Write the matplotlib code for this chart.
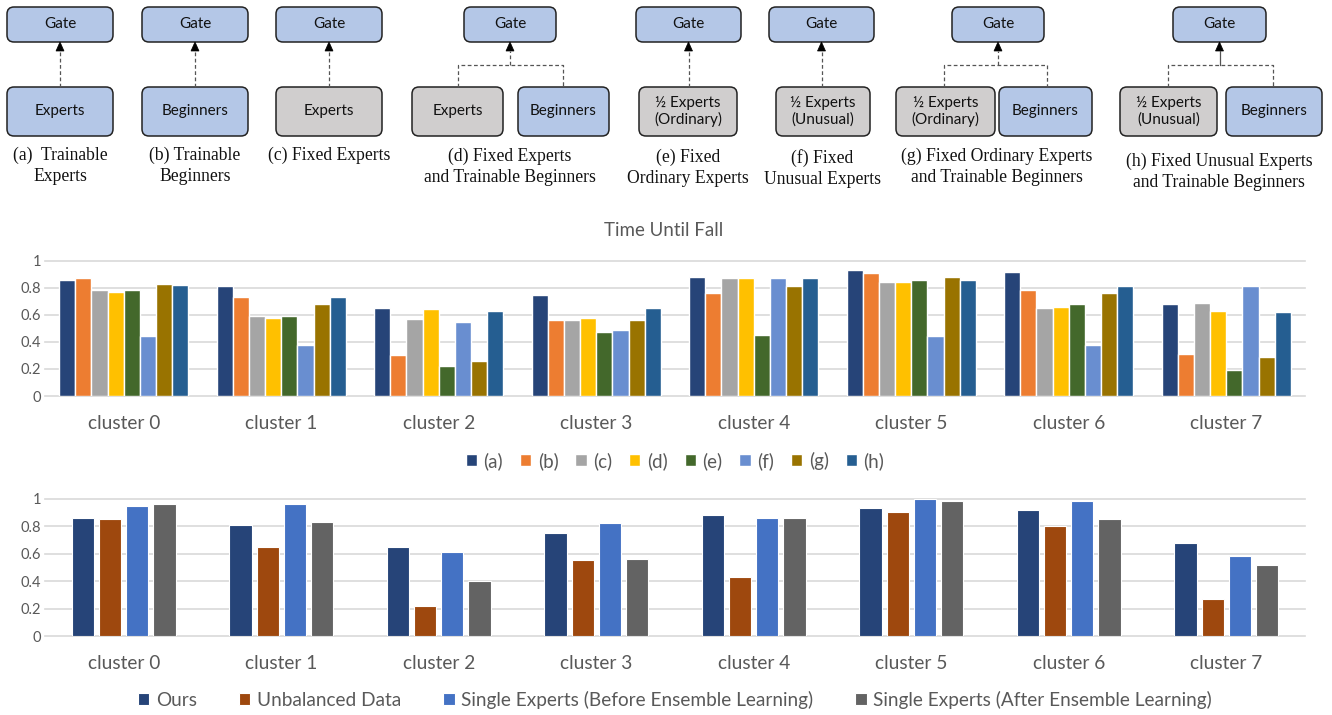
import numpy as np
import matplotlib
matplotlib.use('Agg')
import matplotlib.pyplot as plt
from matplotlib.patches import FancyBboxPatch, Polygon

plt.rcParams['font.family'] = ['Lato', 'DejaVu Sans']

# Data: time until fall per cluster
clusters = ['cluster 0', 'cluster 1', 'cluster 2', 'cluster 3',
            'cluster 4', 'cluster 5', 'cluster 6', 'cluster 7']

setting_names = ['(a)', '(b)', '(c)', '(d)', '(e)', '(f)', '(g)', '(h)']
val_a = [0.86, 0.81, 0.65, 0.75, 0.88, 0.93, 0.92, 0.68]
val_b = [0.87, 0.73, 0.30, 0.56, 0.76, 0.91, 0.78, 0.31]
val_c = [0.78, 0.59, 0.57, 0.56, 0.87, 0.84, 0.65, 0.69]
val_d = [0.77, 0.58, 0.64, 0.58, 0.87, 0.84, 0.66, 0.63]
val_e = [0.78, 0.59, 0.22, 0.47, 0.45, 0.86, 0.68, 0.19]
val_f = [0.44, 0.38, 0.55, 0.49, 0.87, 0.44, 0.38, 0.81]
val_g = [0.83, 0.68, 0.26, 0.56, 0.81, 0.88, 0.76, 0.29]
val_h = [0.82, 0.73, 0.63, 0.65, 0.87, 0.86, 0.81, 0.62]

method_names = ['Ours', 'Unbalanced Data',
                'Single Experts (Before Ensemble Learning)',
                'Single Experts (After Ensemble Learning)']
ours = [0.86, 0.81, 0.65, 0.75, 0.88, 0.93, 0.92, 0.68]
unbalanced = [0.85, 0.65, 0.22, 0.55, 0.43, 0.90, 0.80, 0.27]
single_before = [0.95, 0.96, 0.61, 0.82, 0.86, 1.00, 0.98, 0.58]
single_after = [0.96, 0.83, 0.40, 0.56, 0.86, 0.98, 0.85, 0.52]

top_colors = ['#264478', '#ED7D31', '#A5A5A5', '#FFC000',
              '#43682B', '#698ED0', '#997300', '#255E91']
bottom_colors = ['#264478', '#9E480E', '#4472C4', '#636363']

W, H = 1332, 715
fig = plt.figure(figsize=(W / 100, H / 100), dpi=100)

# ---------- diagrams of the eight settings ----------
dg = fig.add_axes([0, 0, 1, 1])
dg.set_xlim(0, W)
dg.set_ylim(H, 0)
dg.axis('off')

BLUE = '#B4C7E7'
GRAY = '#D0CECE'


def box(x0, x1, y0, y1, text, fc):
    p = FancyBboxPatch((x0, y0), x1 - x0, y1 - y0,
                       boxstyle='round,pad=0,rounding_size=7',
                       fc=fc, ec='#222222', lw=1.1)
    dg.add_patch(p)
    dg.text((x0 + x1) / 2, (y0 + y1) / 2, text, ha='center', va='center',
            fontsize=11, color='#111111', linespacing=1.2)


def arrow_head(x, y):
    dg.add_patch(Polygon([[x - 4, y + 9], [x + 4, y + 9], [x, y]],
                         closed=True, fc='black', ec='black', lw=0.5))


def dashed(xs, ys, solid=False):
    dg.plot(xs, ys, color='#555555', lw=0.9,
            ls='-' if solid else (0, (3, 2)))


gate_y = (7, 42)
low_y = (87, 136)

# single-source settings: (gate x-range, box x-range, label, colour)
singles = [((7, 113), (7, 113), 'Experts', BLUE),
           ((142, 248), (142, 248), 'Beginners', BLUE),
           ((276, 382), (276, 382), 'Experts', GRAY),
           ((636, 741), (639, 737), '½ Experts\n(Ordinary)', GRAY),
           ((769, 874), (776, 870), '½ Experts\n(Unusual)', GRAY)]
for gx, bx, lab, fc in singles:
    box(gx[0], gx[1], gate_y[0], gate_y[1], 'Gate', BLUE)
    box(bx[0], bx[1], low_y[0], low_y[1], lab, fc)
    cx = (gx[0] + gx[1]) / 2
    dashed([cx, cx], [low_y[0], gate_y[1] + 9])
    arrow_head(cx, gate_y[1])

# two-source settings
pairs = [((464, 556), (412, 503), (518, 609), 'Experts', (458, 563), False),
         ((952, 1044), (896, 995), (999, 1092), '½ Experts\n(Ordinary)', (944, 1047), False),
         ((1173, 1266), (1120, 1217), (1226, 1322), '½ Experts\n(Unusual)', (1168, 1273), True)]
for gx, lx, rx, lab, hx, solid in pairs:
    box(gx[0], gx[1], gate_y[0], gate_y[1], 'Gate', BLUE)
    box(lx[0], lx[1], low_y[0], low_y[1], lab, GRAY)
    box(rx[0], rx[1], low_y[0], low_y[1], 'Beginners', BLUE)
    cx = (gx[0] + gx[1]) / 2
    dashed([hx[0], hx[0], hx[1], hx[1]], [low_y[0], 65, 65, low_y[0]])
    dashed([cx, cx], [65, gate_y[1] + 9], solid=solid)
    arrow_head(cx, gate_y[1])

captions = [(60, 147, '(a)  Trainable\nExperts'),
            (195, 147, '(b) Trainable\nBeginners'),
            (329, 147, '(c) Fixed Experts'),
            (510, 148, '(d) Fixed Experts\nand Trainable Beginners'),
            (688, 149, '(e) Fixed\nOrdinary Experts'),
            (822, 149, '(f) Fixed\nUnusual Experts'),
            (997, 148, '(g) Fixed Ordinary Experts\nand Trainable Beginners'),
            (1219, 153, '(h) Fixed Unusual Experts\nand Trainable Beginners')]
for cx, cy, txt in captions:
    dg.text(cx, cy, txt, ha='center', va='top', fontsize=12.7,
            family='Liberation Serif', color='#111111', linespacing=1.28)


# ---------- bar charts ----------
def bar_axes(y_zero, y_one):
    ax = fig.add_axes([45 / W, (H - y_zero) / H, (1305 - 45) / W, (y_zero - y_one) / H])
    ax.set_ylim(0, 1.0)
    ax.set_xlim(-0.5, len(clusters) - 0.5)
    for s in ax.spines.values():
        s.set_visible(False)
    ax.set_yticks([0, 0.2, 0.4, 0.6, 0.8, 1])
    ax.set_yticklabels(['0', '0.2', '0.4', '0.6', '0.8', '1'])
    for v in [0, 0.2, 0.4, 0.6, 0.8, 1]:
        ax.axhline(v, color='#D9D9D9', lw=1.2, zorder=0, clip_on=False)
    ax.tick_params(axis='y', length=0, pad=3, labelsize=10.5, labelcolor='#595959')
    ax.set_xticks(np.arange(len(clusters)))
    ax.set_xticklabels(clusters)
    ax.tick_params(axis='x', length=0, pad=14, labelsize=13.8, labelcolor='#595959')
    return ax


x = np.arange(len(clusters))

ax1 = bar_axes(396, 260.7)
top_series = [val_a, val_b, val_c, val_d, val_e, val_f, val_g, val_h]
slot = 0.82 / len(top_series)
for i, (vals, col, name) in enumerate(zip(top_series, top_colors, setting_names)):
    ax1.bar(x - 0.41 + slot * (i + 0.5), vals, width=slot, color=col,
            edgecolor='white', linewidth=1.0, label=name, zorder=2)
fig.text(664 / W, (H - 231) / H, 'Time Until Fall', ha='center', va='center',
         fontsize=13.5, color='#595959')
ax1.legend(loc='center', bbox_to_anchor=(0.5, (396 - 461) / (396 - 260.7)),
           ncol=8, frameon=False, fontsize=13.5, labelcolor='#595959',
           handlelength=0.6, handleheight=0.6, handletextpad=0.35, columnspacing=0.9)

ax2 = bar_axes(636, 498.7)
bottom_series = [ours, unbalanced, single_before, single_after]
slot2 = 0.69 / len(bottom_series)
for i, (vals, col, name) in enumerate(zip(bottom_series, bottom_colors, method_names)):
    ax2.bar(x - 0.345 + slot2 * (i + 0.5), vals, width=slot2 * 0.82, color=col,
            edgecolor='white', linewidth=0.8, label=name, zorder=2)
ax2.legend(loc='center', bbox_to_anchor=(0.5, (636 - 700) / (636 - 498.7)),
           ncol=4, frameon=False, fontsize=13.7, labelcolor='#595959',
           handlelength=0.6, handleheight=0.6, handletextpad=0.35, columnspacing=2.2)

fig.savefig('out.png', dpi=100)
